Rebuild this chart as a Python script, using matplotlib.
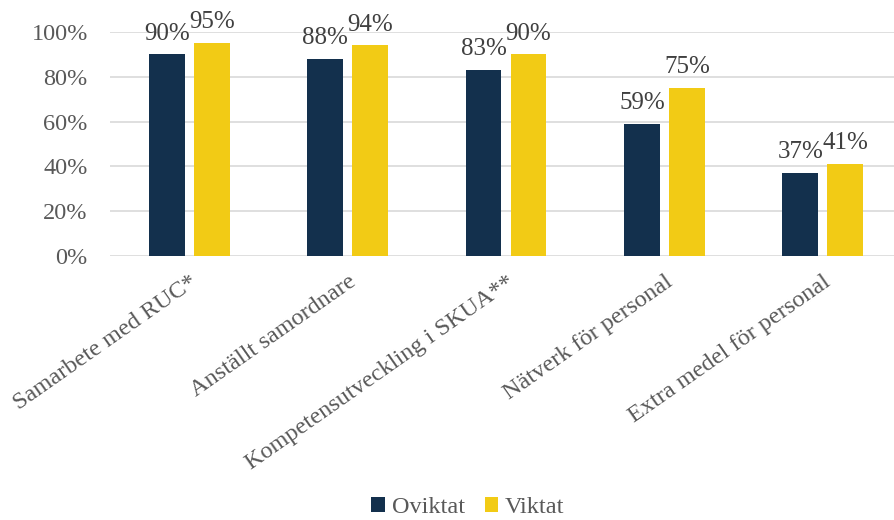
import matplotlib.pyplot as plt
import numpy as np

categories = ["Samarbete med RUC*", "Anställt samordnare", "Kompetensutveckling i SKUA**",
              "Nätverk för personal", "Extra medel för personal"]
oviktat = [90, 88, 83, 59, 37]
viktat = [95, 94, 90, 75, 41]
series_names = ["Oviktat", "Viktat"]
colors = ["#13304D", "#F2CB15"]

plt.rcParams['font.family'] = ['Liberation Serif', 'DejaVu Serif']

fig = plt.figure(figsize=(8.95, 5.2), dpi=100)
ax = fig.add_axes([110 / 895, 264 / 520, 792 / 895, 224 / 520])

x = np.arange(len(categories))
w = 0.227
off = 0.142
b1 = ax.bar(x - off, oviktat, w, color=colors[0], label=series_names[0], zorder=3)
b2 = ax.bar(x + off, viktat, w, color=colors[1], label=series_names[1], zorder=3)

for bars, vals in ((b1, oviktat), (b2, viktat)):
    for r, v in zip(bars, vals):
        ax.annotate(f"{v}%", (r.get_x() + r.get_width() / 2, v), xytext=(0, 7),
                    textcoords="offset points", ha="center", va="bottom",
                    fontsize=18, color="#404040", clip_on=False)

ax.set_xlim(-0.5, len(categories) - 0.5)
ax.set_ylim(0, 100)
ax.set_yticks(range(0, 101, 20))
ax.set_yticklabels([f"{t}%" for t in range(0, 101, 20)])
ax.yaxis.grid(True, color="#d9d9d9", linewidth=1.2, zorder=0)
ax.set_xticks(x)
ax.set_xticklabels(categories, rotation=35, ha="right", rotation_mode="anchor")
ax.tick_params(axis="both", length=0, labelsize=17.5, labelcolor="#595959")
ax.tick_params(axis="y", pad=16)
ax.tick_params(axis="x", pad=11)
for s in ax.spines.values():
    s.set_visible(False)

fig.legend(loc="lower center", bbox_to_anchor=(468 / 895, -0.038), ncol=2, frameon=False,
           fontsize=17.5, handlelength=0.55, handleheight=0.55, handletextpad=0.3,
           columnspacing=0.8, labelcolor="#595959")

fig.savefig("out.png", dpi=100)
